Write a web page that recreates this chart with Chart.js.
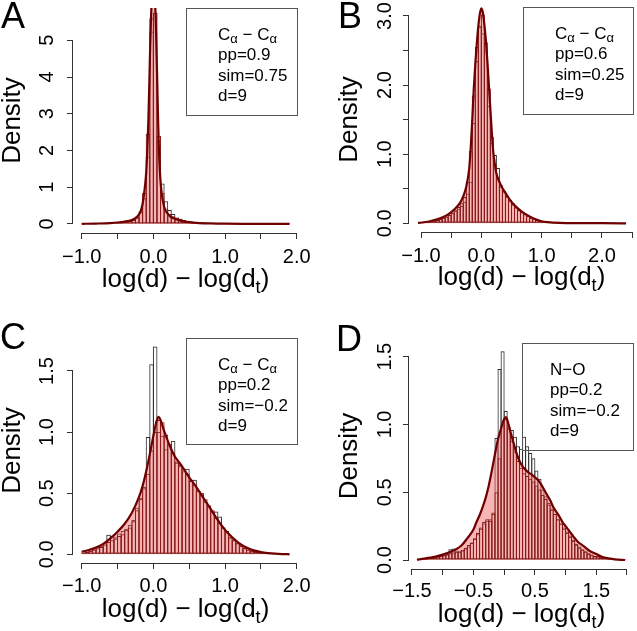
<!DOCTYPE html>
<html><head><meta charset="utf-8">
<script src="https://cdn.jsdelivr.net/npm/chart.js@4.4.1/dist/chart.umd.min.js"></script>
<style>
html,body{margin:0;padding:0;background:#fff;}
#wrap{position:relative;width:637px;height:631px;overflow:hidden;background:#fff;font-family:'Liberation Sans',Arial,Helvetica,sans-serif;color:#000;}
canvas{position:absolute;}
.letter{position:absolute;font-size:36px;line-height:36px;white-space:nowrap;}
.legend{position:absolute;border:1px solid #555;box-sizing:border-box;font-size:17px;line-height:20.3px;padding-top:16px;white-space:nowrap;}
.legend sub{font-size:13px;line-height:0;vertical-align:-3px;}
.xtitle{position:absolute;width:300px;text-align:center;font-size:26px;line-height:26px;white-space:nowrap;}
.xtitle .s{font-size:18px;position:relative;top:6px;}
</style></head>
<body>
<div id="wrap">
<canvas id="cA" width="318" height="315" style="left:0;top:0"></canvas>
<canvas id="cB" width="319" height="315" style="left:318px;top:0"></canvas>
<canvas id="cC" width="318" height="316" style="left:0;top:315px"></canvas>
<canvas id="cD" width="319" height="316" style="left:318px;top:315px"></canvas>

<div class="letter" style="left:1px;top:-2.5px">A</div>
<div class="letter" style="left:338px;top:-2.5px">B</div>
<div class="letter" style="left:0px;top:318.5px">C</div>
<div class="letter" style="left:336px;top:321px">D</div>

<div class="legend" style="left:186px;top:8px;width:112px;height:108px;padding-left:31px">C<sub>α</sub> − C<sub>α</sub><br>pp=0.9<br>sim=0.75<br>d=9</div>
<div class="legend" style="left:523px;top:7px;width:111px;height:108px;padding-left:31px">C<sub>α</sub> − C<sub>α</sub><br>pp=0.6<br>sim=0.25<br>d=9</div>
<div class="legend" style="left:186px;top:338px;width:112px;height:107px;padding-left:31px">C<sub>α</sub> − C<sub>α</sub><br>pp=0.2<br>sim=−0.2<br>d=9</div>
<div class="legend" style="left:522px;top:343px;width:112px;height:108px;padding-left:27px">N−O<br>pp=0.2<br>sim=−0.2<br>d=9</div>

<div class="xtitle" style="left:35.5px;top:265px">log(d) − log(d<span class="s">t</span>)</div>
<div class="xtitle" style="left:371.5px;top:262.5px">log(d) − log(d<span class="s">t</span>)</div>
<div class="xtitle" style="left:35.5px;top:594.5px">log(d) − log(d<span class="s">t</span>)</div>
<div class="xtitle" style="left:371.5px;top:599.5px">log(d) − log(d<span class="s">t</span>)</div>
</div>

<script>
// ---------------- DATA ----------------
const binWidth = 0.05;

// Panel A
const binStartA = -1.0;
const whiteHistA = [0.004,0.005,0.007,0.009,0.011,0.013,0.016,0.02,0.025,0.03,0.038,0.048,0.06,0.08,0.12,
  0.20,0.35,0.70,1.83,5.24,5.75,2.26,1.10,0.62,0.38,0.27,0.18,0.14,0.11,0.085,0.068,0.055,0.045,0.036,0.03,0.024,0.02,0.016,0.013,0.011,0.009,
  0.008,0.007,0.006,0.005,0.005,0.004,0.004,0.003,0.003,0.003,0.002,0.002,0.002,0.002,0.001,0.001,0.001];
const redHistA = [0.005,0.006,0.008,0.010,0.012,0.015,0.018,0.022,0.027,0.034,0.042,0.052,0.065,0.082,0.11,
  0.17,0.32,0.85,2.45,5.6,5.75,2.4,0.85,0.42,0.27,0.21,0.17,0.14,0.11,0.09,0.07,0.055,0.045,0.036,0.03,0.024,0.02,0.016,0.013,0.011,0.009,
  0.008,0.007,0.006,0.005,0.005,0.004,0.004,0.003,0.003,0.003,0.002,0.002,0.002,0.002,0.001,0.001,0.001];
const densXA = [-1.0,-0.8,-0.6,-0.5,-0.4,-0.3,-0.25,-0.2,-0.175,-0.15,-0.125,-0.1,-0.085,-0.07,-0.057,-0.045,-0.033,-0.02,0,
  0.02,0.032,0.045,0.055,0.065,0.078,0.095,0.116,0.14,0.162,0.2,0.232,0.28,0.325,0.4,0.5,0.6,0.8,1.0,1.3,1.6,1.9];
const densYA = [0.005,0.012,0.025,0.04,0.065,0.11,0.16,0.26,0.36,0.55,0.9,1.4,2.0,2.8,3.8,4.8,5.6,6.2,6.5,
  6.2,5.6,4.6,3.8,2.9,2.0,1.3,0.84,0.56,0.4,0.28,0.21,0.16,0.12,0.08,0.05,0.03,0.015,0.008,0.004,0.002,0.001];
const xTicksA = [-1, -0.5, 0, 0.5, 1, 1.5, 2];
const xTickLabelsA = ['−1.0', '', '0.0', '', '1.0', '', '2.0'];
const yTicksA = [0, 1, 2, 3, 4, 5];
const yTickLabelsA = ['0', '1', '2', '3', '4', '5'];

// Panel B
const binStartB = -1.05;
const whiteHistB = [0.006,0.01,0.015,0.02,0.028,0.038,0.05,0.063,0.08,0.1,0.12,0.15,0.18,0.21,
  0.25,0.31,0.43,0.60,1.45,2.35,2.85,2.75,2.5,1.7,1.17,0.99,0.80,0.53,0.45,0.38,
  0.32,0.27,0.23,0.19,0.16,0.13,0.105,0.082,0.065,0.05,0.038,0.028,0.02,0.015,0.011,0.008,0.006,0.005,0.004,0.003,
  0.003,0.002,0.002,0.002,0.001,0.001,0.001,0.001,0.001,0.001,0.001,0,0,0,0,0,0,0,0];
const redHistB = [0.007,0.011,0.016,0.022,0.03,0.04,0.052,0.066,0.082,0.1,0.125,0.155,0.19,0.235,
  0.29,0.38,0.6,1.05,1.85,2.55,2.85,3.02,2.62,1.95,1.25,0.85,0.65,0.55,0.47,0.4,
  0.34,0.29,0.24,0.2,0.165,0.135,0.11,0.085,0.068,0.052,0.04,0.03,0.022,0.016,0.012,0.009,0.007,0.005,0.004,0.004,
  0.003,0.003,0.002,0.002,0.002,0.002,0.001,0.001,0.001,0.001,0.001,0.001,0.001,0,0.001,0,0,0.001,0];
const densXB = [-1.05,-0.95,-0.85,-0.75,-0.65,-0.55,-0.45,-0.35,-0.3,-0.25,-0.2,-0.175,-0.15,-0.125,-0.1,-0.075,-0.05,-0.025,0,
  0.025,0.05,0.075,0.1,0.125,0.15,0.175,0.2,0.225,0.25,0.3,0.35,0.4,0.5,0.6,0.7,0.8,0.9,1.0,1.1,1.3,1.6,2.0,2.4];
const densYB = [0.005,0.015,0.03,0.055,0.085,0.13,0.2,0.3,0.39,0.53,0.8,1.1,1.5,1.95,2.3,2.6,2.85,3.03,3.11,
  3.05,2.88,2.65,2.35,2.0,1.65,1.3,1.02,0.85,0.72,0.6,0.51,0.44,0.31,0.22,0.15,0.1,0.06,0.03,0.017,0.006,0.002,0.001,0.0];
const xTicksB = [-1, -0.5, 0, 0.5, 1, 1.5, 2, 2.5];
const xTickLabelsB = ['−1.0', '', '0.0', '', '1.0', '', '2.0', ''];
const yTicksB = [0, 0.5, 1, 1.5, 2, 2.5, 3];
const yTickLabelsB = ['0.0', '', '1.0', '', '2.0', '', '3.0'];

// Panel C
const binStartC = -1.0;
const whiteHistC = [0.01,0.02,0.03,0.04,0.06,0.07,0.09,0.16,0.15,0.14,0.17,0.19,0.21,0.24,0.28,0.38,0.46,0.55,0.96,1.555,
  1.70,1.0,0.97,0.86,0.90,0.93,0.75,0.72,0.68,0.70,0.61,0.61,0.52,0.5,0.43,0.4,0.35,0.35,0.31,0.22,
  0.19,0.14,0.12,0.095,0.08,0.05,0.04,0.03,0.02,0.015,0.01,0.008,0.006,0.004,0.003,0.002,0.001,0.001];
const redHistC = [0.015,0.02,0.03,0.04,0.05,0.06,0.08,0.10,0.115,0.13,0.15,0.165,0.2,0.22,0.27,0.36,0.45,0.54,0.66,0.85,
  1.0,1.1,1.08,0.98,0.9,0.83,0.76,0.73,0.7,0.66,0.6,0.57,0.52,0.5,0.45,0.4,0.36,0.3,0.26,0.22,
  0.18,0.14,0.115,0.09,0.068,0.052,0.04,0.03,0.022,0.016,0.012,0.009,0.006,0.004,0.003,0.002,0.001,0.001];
const densXC = [-1.0,-0.9,-0.8,-0.7,-0.6,-0.5,-0.4,-0.3,-0.2,-0.15,-0.1,-0.05,0,0.04,0.07,0.1,0.15,0.2,0.25,0.3,0.35,0.4,
  0.5,0.6,0.7,0.8,0.9,1.0,1.1,1.2,1.3,1.4,1.5,1.6,1.7,1.8,1.9];
const densYC = [0.02,0.035,0.055,0.085,0.13,0.185,0.25,0.34,0.47,0.56,0.68,0.82,0.97,1.08,1.125,1.1,1.01,0.93,0.86,0.8,0.76,0.72,
  0.63,0.55,0.46,0.37,0.28,0.2,0.14,0.09,0.055,0.032,0.018,0.01,0.005,0.002,0.0];
const xTicksC = [-1, -0.5, 0, 0.5, 1, 1.5, 2];
const xTickLabelsC = ['−1.0', '', '0.0', '', '1.0', '', '2.0'];
const yTicksC = [0, 0.5, 1, 1.5];
const yTickLabelsC = ['0.0', '0.5', '1.0', '1.5'];

// Panel D
const binStartD = -1.4;
const whiteHistD = [0.004,0.006,0.01,0.012,0.015,0.02,0.025,0.03,0.035,0.045,0.08,0.085,0.07,0.06,0.07,0.085,0.1,0.125,0.155,0.19,
  0.23,0.27,0.29,0.3,0.34,0.9,1.41,1.54,1.1,0.98,0.96,0.91,0.84,0.82,0.91,0.84,0.79,0.75,0.66,0.6,
  0.52,0.47,0.42,0.38,0.34,0.3,0.27,0.23,0.2,0.17,0.14,0.11,0.09,0.075,0.06,0.045,0.035,0.028,0.025,0.018,
  0.013,0.009,0.007,0.004,0.003,0.002,0.001,0.001];
const redHistD = [0.005,0.008,0.01,0.012,0.015,0.02,0.025,0.03,0.035,0.04,0.05,0.055,0.06,0.065,0.075,0.09,0.11,0.13,0.16,0.2,
  0.24,0.28,0.3,0.29,0.35,0.5,0.75,1.0,1.04,0.97,0.88,0.8,0.73,0.68,0.64,0.62,0.6,0.58,0.55,0.52,
  0.48,0.45,0.41,0.37,0.34,0.3,0.27,0.24,0.21,0.18,0.15,0.12,0.1,0.08,0.065,0.05,0.04,0.03,0.03,0.02,
  0.015,0.01,0.008,0.005,0.003,0.002,0.001,0.001];
const densXD = [-1.42,-1.3,-1.2,-1.1,-1.0,-0.9,-0.8,-0.7,-0.6,-0.5,-0.45,-0.4,-0.35,-0.3,-0.25,-0.2,-0.15,-0.1,-0.05,0.0,
  0.03,0.06,0.1,0.15,0.2,0.25,0.3,0.35,0.4,0.45,0.5,0.55,0.6,0.65,0.7,0.75,0.8,0.85,0.9,0.95,1.0,1.05,1.1,1.15,1.2,
  1.3,1.4,1.5,1.6,1.7,1.8,1.97];
const densYD = [0.003,0.01,0.018,0.027,0.04,0.055,0.075,0.105,0.16,0.225,0.28,0.33,0.39,0.46,0.55,0.66,0.78,0.89,0.97,1.04,
  1.055,1.02,0.95,0.87,0.79,0.73,0.69,0.665,0.645,0.63,0.61,0.59,0.56,0.52,0.48,0.44,0.39,0.355,0.32,0.28,0.25,0.22,0.19,0.16,0.135,
  0.1,0.065,0.045,0.022,0.012,0.005,0.0];
const xTicksD = [-1.5, -1, -0.5, 0, 0.5, 1, 1.5, 2];
const xTickLabelsD = ['−1.5', '', '−0.5', '', '0.5', '', '1.5', ''];
const yTicksD = [0, 0.5, 1, 1.5];
const yTickLabelsD = ['0.0', '0.5', '1.0', '1.5'];

// ---------------- STYLE ----------------
const FONT = "'Liberation Sans', Arial, Helvetica, sans-serif";
const AXIS = '#333333';
const PINK = 'rgba(240, 90, 90, 0.45)';
const RED_EDGE = '#8b1a1a';
const CURVE = '#6e0000';
const HIST_EDGE = '#2a2a2a';

function histPoints(start, vals) { return vals.map((v, i) => ({ x: start + binWidth * (i + 0.5), y: v })); }
function curvePoints(xs, ys) { return xs.map((x, i) => ({ x: x, y: ys[i] })); }

const rAxisPlugin = {
  id: 'rAxes',
  afterDraw(chart) {
    const { ctx, chartArea: ca, scales: { x, y } } = chart;
    ctx.save();
    ctx.strokeStyle = AXIS;
    ctx.lineWidth = 1;
    ctx.beginPath();
    const yb = Math.round(ca.bottom) + 0.5;
    ctx.moveTo(Math.round(x.getPixelForValue(x.ticks[0].value) - 0.5), yb);
    ctx.lineTo(Math.round(x.getPixelForValue(x.ticks[x.ticks.length - 1].value) - 0.5) + 1, yb);
    const xl = Math.round(ca.left) - 0.5;
    ctx.moveTo(xl, Math.round(y.getPixelForValue(y.ticks[0].value) - 0.5) + 1);
    ctx.lineTo(xl, Math.round(y.getPixelForValue(y.ticks[y.ticks.length - 1].value) - 0.5));
    ctx.stroke();
    ctx.restore();
  }
};

function makePanel(p) {
  const canvas = document.getElementById(p.id);
  const plotW = canvas.width - p.yAxisW - p.padRight;
  const pitch = binWidth * plotW / (p.xMax - p.xMin);
  const curve = curvePoints(p.densX, p.densY);
  const zeroPad = s => { s.paddingLeft = 0; s.paddingRight = 0; s.paddingTop = 0; s.paddingBottom = 0; };
  const gridOpts = { offset: false, drawOnChartArea: false, drawTicks: true, tickLength: 6, color: AXIS, lineWidth: 1 };
  return new Chart(canvas, {
    type: 'bar',
    data: {
      datasets: [
        { type: 'line', data: curve, borderColor: CURVE, borderWidth: 2.2, pointRadius: 0, pointHoverRadius: 0,
          fill: false, cubicInterpolationMode: 'monotone', order: 1 },
        { type: 'bar', data: histPoints(p.binStart, p.red), borderColor: RED_EDGE, backgroundColor: 'rgba(0,0,0,0)',
          borderWidth: 1, borderSkipped: false, barThickness: pitch + 1, grouped: false, inflateAmount: 0, order: 2 },
        { type: 'line', data: curve, borderColor: 'rgba(0,0,0,0)', borderWidth: 0, backgroundColor: PINK,
          fill: 'origin', pointRadius: 0, pointHoverRadius: 0, cubicInterpolationMode: 'monotone', order: 3 },
        { type: 'bar', data: histPoints(p.binStart, p.white), borderColor: HIST_EDGE, backgroundColor: 'rgba(0,0,0,0)',
          borderWidth: 1, borderSkipped: false, barThickness: pitch + 1, grouped: false, inflateAmount: 0, order: 4 }
      ]
    },
    options: {
      responsive: false, animation: false, devicePixelRatio: 1, events: [],
      layout: { autoPadding: false, padding: { left: 0, top: p.padTop, right: p.padRight, bottom: 0 } },
      plugins: { legend: { display: false }, tooltip: { enabled: false }, title: { display: false } },
      scales: {
        x: {
          type: 'linear', min: p.xMin, max: p.xMax, offset: false, bounds: 'data',
          grid: gridOpts, border: { display: false },
          ticks: { autoSkip: false, minRotation: 0, maxRotation: 0, padding: p.xLabelPad, color: '#000',
            font: { family: FONT, size: 20 }, callback: (v, i) => p.xLabels[i] },
          afterBuildTicks: s => { s.ticks = p.xTicks.map(v => ({ value: v })); },
          afterFit: s => { s.height = p.xAxisH; zeroPad(s); }
        },
        y: {
          type: 'linear', min: p.yMin, max: p.yMax, beginAtZero: false, bounds: 'data',
          grid: gridOpts, border: { display: false },
          ticks: { autoSkip: false, minRotation: 90, maxRotation: 90, crossAlign: 'center', padding: p.yLabelPad,
            color: '#000', font: { family: FONT, size: 20 }, callback: (v, i) => p.yLabels[i] },
          title: { display: true, text: 'Density', color: '#000', font: { family: FONT, size: 26, lineHeight: 1 },
            padding: { top: p.yTitlePad, bottom: 0 } },
          afterBuildTicks: s => { s.ticks = p.yTicks.map(v => ({ value: v })); },
          afterFit: s => { s.width = p.yAxisW; zeroPad(s); }
        }
      }
    },
    plugins: [rAxisPlugin]
  });
}

makePanel({ id: 'cA', binStart: binStartA, white: whiteHistA, red: redHistA, densX: densXA, densY: densYA,
  xTicks: xTicksA, xLabels: xTickLabelsA, yTicks: yTicksA, yLabels: yTickLabelsA,
  xMin: -1.1214, xMax: 2.018, yMin: -0.245, yMax: 5.879,
  yAxisW: 73, xAxisH: 82, padTop: 8, padRight: 20, xLabelPad: 6, yLabelPad: 14.4, yTitlePad: 0 });
makePanel({ id: 'cB', binStart: binStartB, white: whiteHistB, red: redHistB, densX: densXB, densY: densYB,
  xTicks: xTicksB, xLabels: xTickLabelsB, yTicks: yTicksB, yLabels: yTickLabelsB,
  xMin: -1.199, xMax: 2.531, yMin: -0.126, yMax: 3.130,
  yAxisW: 91, xAxisH: 83, padTop: 7, padRight: 3, xLabelPad: 6, yLabelPad: 4.1, yTitlePad: 19 });
makePanel({ id: 'cC', binStart: binStartC, white: whiteHistC, red: redHistC, densX: densXC, densY: densYC,
  xTicks: xTicksC, xLabels: xTickLabelsC, yTicks: yTicksC, yLabels: yTickLabelsC,
  xMin: -1.1214, xMax: 2.018, yMin: -0.0712, yMax: 1.770,
  yAxisW: 73, xAxisH: 68, padTop: 23, padRight: 20, xLabelPad: 5, yLabelPad: 6.1, yTitlePad: 0 });
makePanel({ id: 'cD', binStart: binStartD, white: whiteHistD, red: redHistD, densX: densXD, densY: densYD,
  xTicks: xTicksD, xLabels: xTickLabelsD, yTicks: yTicksD, yLabels: yTickLabelsD,
  xMin: -1.5488, xMax: 2.114, yMin: -0.0664, yMax: 1.601,
  yAxisW: 91, xAxisH: 62, padTop: 28, padRight: 3, xLabelPad: 4.5, yLabelPad: 4.1, yTitlePad: 19 });
</script>
</body></html>
